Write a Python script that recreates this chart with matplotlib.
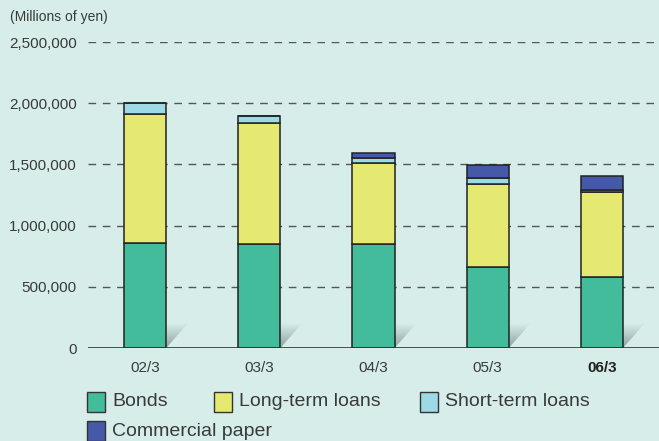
import numpy as np
import matplotlib
matplotlib.use("Agg")
import matplotlib.pyplot as plt
from matplotlib.patches import Polygon, Rectangle

categories = ["02/3", "03/3", "04/3", "05/3", "06/3"]
bonds = [860000, 847000, 852000, 662000, 580000]
long_term = [1049000, 989000, 657000, 678000, 692000]
short_term = [93000, 57000, 41000, 51000, 21000]
commercial_paper = [0, 0, 41000, 104000, 112000]
series_names = ["Bonds", "Long-term loans", "Short-term loans", "Commercial paper"]
yticks = [0, 500000, 1000000, 1500000, 2000000, 2500000]

colors = ["#42bc9b", "#e5e871", "#9ed9e6", "#4658a8"]
bg = "#d6edea"
text_c = "#3a3a3a"

plt.rcParams['font.family'] = ['Liberation Sans', 'DejaVu Sans']

fig = plt.figure(figsize=(6.59, 4.41), dpi=100, facecolor=bg)
ax = fig.add_axes([88/659, 93/441, 571/659, 306/441], facecolor=bg)

x = np.arange(len(categories))
width = 0.37

ax.set_xlim(-0.5, 4.5)
ax.set_ylim(0, 2500000)

# gridlines
for yv in yticks[1:]:
    ax.axhline(yv, color="#555555", lw=1.0, ls=(0, (5.5, 4.8)), zorder=0.5)
ax.axhline(0, color="#333333", lw=1.2, zorder=4)

# shadows (triangles with gradient) to the right of bars
px_x = 5.0 / 571.0  # x-units per pixel (5 units across 571 px)
px_y = 2500000 / 306.0
grad = np.linspace(0, 1, 64).reshape(-1, 1)
for xi in x:
    x0 = xi + width / 2
    sw = 22 * px_x
    sh = 25 * px_y
    tri = Polygon([[x0, sh], [x0 + sw, sh], [x0, 0]], closed=True,
                  facecolor="none", edgecolor="none")
    ax.add_patch(tri)
    im = ax.imshow(grad, extent=[x0, x0 + sw, 0, sh], origin="lower",
                   cmap=matplotlib.colors.LinearSegmentedColormap.from_list(
                       "sh", ["#8fa3a2", bg]),
                   aspect="auto", zorder=1, interpolation="bilinear")
    im.set_clip_path(tri)

ax.set_aspect("auto")
ax.set_xlim(-0.5, 4.5)
ax.set_ylim(0, 2500000)

bottom = np.zeros(len(categories))
for vals, col in zip([bonds, long_term, short_term, commercial_paper], colors):
    v = np.array(vals, dtype=float)
    ax.bar(x, v, width, bottom=bottom, color=col, edgecolor="#222222",
           linewidth=1.1, zorder=3)
    bottom += v

for s in ax.spines.values():
    s.set_visible(False)

ax.set_yticks(yticks)
ax.set_yticklabels([f"{v:,}" for v in yticks], fontsize=11, color=text_c)
ax.tick_params(axis="y", length=0, pad=8)
ax.set_xticks(x)
ax.set_xticklabels(categories, fontsize=11, color=text_c)
ax.tick_params(axis="x", length=0, pad=9)
ax.get_xticklabels()[-1].set_fontweight("bold")
ax.get_xticklabels()[-1].set_color("#222222")

fig.text(10/659, 1 - 17/441, "(Millions of yen)", fontsize=10, color=text_c,
         ha="left", va="center")

# legend
leg_items = [(87, 402), (214, 402), (420, 402), (87, 431)]
for (lx, ly), name, col in zip(leg_items, series_names, colors):
    fig.patches.append(Rectangle((lx / 659, 1 - (ly + 10) / 441), 18 / 659, 20 / 441,
                                 transform=fig.transFigure, facecolor=col,
                                 edgecolor="#333333", linewidth=1.0))
    fig.text((lx + 25) / 659, 1 - ly / 441, name, fontsize=14, color=text_c,
             ha="left", va="center")

fig.savefig("out.png", dpi=100, facecolor=bg)
